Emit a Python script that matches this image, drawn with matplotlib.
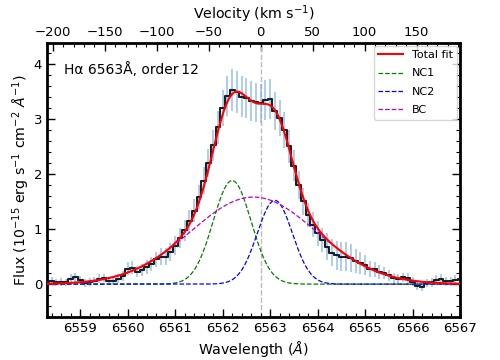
import numpy as np
import matplotlib
matplotlib.use("Agg")
import matplotlib.pyplot as plt
from matplotlib.ticker import MultipleLocator, FixedLocator

# ---- data ----
wave_start = 6558.3
wave_step = 0.1
flux_obs = [0.04, 0.05, 0.03, 0.04, 0.03, 0.10, 0.12, 0.07, 0.02, 0.04,
            0.05, 0.10, 0.11, 0.06, 0.05, 0.10, 0.14, 0.28, 0.30, 0.22,
            0.26, 0.31, 0.36, 0.45, 0.50, 0.50, 0.58, 0.70, 0.84, 0.98,
            1.15, 1.33, 1.58, 1.88, 2.20, 2.52, 2.85, 3.20, 3.42, 3.53,
            3.48, 3.40, 3.38, 3.33, 3.30, 3.28, 3.34, 3.36, 3.14, 3.02,
            2.80, 2.50, 2.15, 1.80, 1.50, 1.26, 1.08, 0.92, 0.80, 0.68,
            0.57, 0.52, 0.50, 0.50, 0.47, 0.42, 0.38, 0.34, 0.27, 0.27,
            0.22, 0.20, 0.16, 0.11, 0.10, 0.12, 0.11, 0.04, -0.03, -0.05,
            0.02, 0.03, 0.08, 0.10, 0.05, 0.05, 0.08, 0.09]
flux_err = [0.07, 0.07, 0.07, 0.07, 0.07, 0.08, 0.08, 0.07, 0.07, 0.07,
            0.07, 0.08, 0.08, 0.07, 0.07, 0.08, 0.09, 0.12, 0.12, 0.10,
            0.11, 0.12, 0.13, 0.14, 0.15, 0.15, 0.16, 0.17, 0.18, 0.19,
            0.20, 0.21, 0.22, 0.24, 0.26, 0.28, 0.30, 0.33, 0.36, 0.38,
            0.38, 0.37, 0.37, 0.36, 0.36, 0.35, 0.36, 0.36, 0.34, 0.33,
            0.32, 0.30, 0.28, 0.26, 0.24, 0.22, 0.22, 0.22, 0.22, 0.24,
            0.25, 0.26, 0.27, 0.27, 0.25, 0.22, 0.20, 0.18, 0.15, 0.14,
            0.12, 0.11, 0.10, 0.09, 0.09, 0.09, 0.09, 0.08, 0.08, 0.08,
            0.08, 0.08, 0.08, 0.09, 0.08, 0.08, 0.08, 0.08]

# Gaussian fit components: (amplitude, centre [A], sigma [A])
comp_names = ["NC1", "NC2", "BC"]
comp_amp = [1.88, 1.52, 1.58]
comp_cen = [6562.20, 6563.10, 6562.65]
comp_sig = [0.40, 0.37, 1.32]
comp_colors = ["green", "blue", "m"]

vel_major = [-200, -150, -100, -50, 0, 50, 100, 150]
vel_minor = list(range(-200, 191, 10))

lam0 = 6562.8
c_kms = 299792.458
label_text = "H\u03b1 6563\u00c5, order\u200912"

# ---- figure ----
wave = wave_start + wave_step * np.arange(len(flux_obs))
fig = plt.figure(figsize=(5, 3.6), dpi=100)
ax = fig.add_axes([0.094, 0.119, 0.826, 0.762])

ax.errorbar(wave, flux_obs, yerr=flux_err, fmt='none', ecolor='#7fb2dc',
            elinewidth=1.2, alpha=0.75, zorder=2)
ax.plot(wave, flux_obs, drawstyle='steps-mid', color='#15202b', lw=1.5, zorder=3)

xf = np.linspace(6558.3, 6567.0, 600)
comps = [a * np.exp(-(xf - c) ** 2 / (2 * s ** 2))
         for a, c, s in zip(comp_amp, comp_cen, comp_sig)]
total = np.sum(comps, axis=0)
ax.plot(xf, total, color='red', lw=1.5, label='Total fit', zorder=4)
for y, nm, col in zip(comps, comp_names, comp_colors):
    ax.plot(xf, y, ls='--', color=col, lw=0.9, label=nm, zorder=3)

ax.axvline(lam0, color='#bbbbbb', ls='--', lw=1, zorder=1)

ax.set_xlim(6558.3, 6567.0)
ax.set_ylim(-0.6, 4.38)
ax.xaxis.set_major_locator(MultipleLocator(1))
ax.xaxis.set_minor_locator(MultipleLocator(0.2))
ax.yaxis.set_major_locator(MultipleLocator(1))
ax.yaxis.set_minor_locator(MultipleLocator(0.2))
ax.xaxis.get_major_formatter().set_useOffset(False)
ax.tick_params(which='both', direction='in', right=True, top=False, labelsize=9.5)
ax.tick_params(which='major', length=6, width=1)
ax.tick_params(which='minor', length=3, width=0.8)
for sp in ax.spines.values():
    sp.set_linewidth(2)

ax.set_xlabel(r'Wavelength ($Å$)', fontsize=10.2, labelpad=3)
ax.set_ylabel(r'Flux (10$^{-15}$ erg s$^{-1}$ cm$^{-2}$ $Å^{-1}$)', fontsize=10.2,
              labelpad=1)

def w2v(w):
    return (w - lam0) / lam0 * c_kms

def v2w(v):
    return lam0 * (1 + v / c_kms)

sec = ax.secondary_xaxis('top', functions=(w2v, v2w))
sec.xaxis.set_major_locator(FixedLocator(vel_major))
sec.xaxis.set_minor_locator(FixedLocator(vel_minor))
sec.tick_params(which='both', direction='in', labelsize=9.5, pad=3)
sec.tick_params(which='major', length=6, width=1)
sec.tick_params(which='minor', length=3, width=0.8)
sec.set_xlabel(r'Velocity (km s$^{-1}$)', fontsize=10.2, labelpad=5)

ax.text(0.04, 0.885, label_text, transform=ax.transAxes, fontsize=10)

ax.legend(loc='upper right', fontsize=8, handlelength=2.2, borderaxespad=0.25,
          labelspacing=0.75)

fig.savefig('out.png', dpi=100)
